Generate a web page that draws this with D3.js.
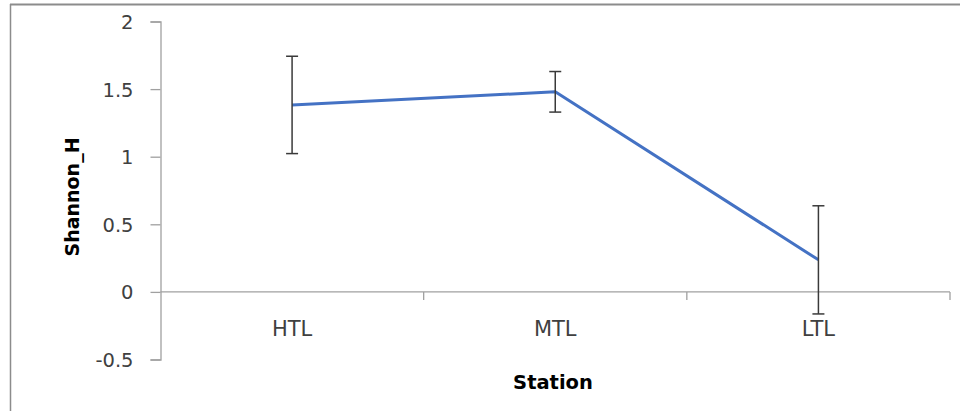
<!DOCTYPE html>
<html><head><meta charset="utf-8">
<script src="https://cdn.jsdelivr.net/npm/d3@7"></script>
<style>body{margin:0;background:#fff}svg{display:block}text{font-family:"DejaVu Sans",sans-serif;fill:#404040}</style>
</head><body><svg id="c" width="960" height="411"></svg>
<script>
const categories = ["HTL", "MTL", "LTL"];
const shannonMean = [1.383, 1.48, 0.237];
const shannonErr = [0.36, 0.15, 0.40];
const yTicks = [-0.5, 0, 0.5, 1, 1.5, 2];

const svg = d3.select("#c");
const W = 960, H = 411;
// outer frame
svg.append("line").attr("x1",10).attr("x2",W).attr("y1",4.5).attr("y2",4.5).attr("stroke","#8c8c8c").attr("stroke-width",2);
svg.append("line").attr("x1",10.5).attr("x2",10.5).attr("y1",4).attr("y2",H).attr("stroke","#8c8c8c").attr("stroke-width",1.5);

const left = 160.5, right = 950;
const x = d3.scaleBand().domain(categories).range([left, right]).padding(0);
const y = d3.scaleLinear().domain([-0.5, 2]).range([359.5, 21.5]);
const axisColor = "#a0a0a0";

// y axis
const ya = svg.append("g").attr("transform", `translate(${left},0)`)
  .call(d3.axisLeft(y).tickValues(yTicks).tickSize(10).tickPadding(17).tickFormat(d => String(d)));
ya.select(".domain").attr("stroke", axisColor).attr("stroke-width",1.3);
ya.selectAll(".tick line").attr("stroke", axisColor).attr("stroke-width",1.3);
ya.selectAll("text").style("font-size","19.5px").style("font-family","'DejaVu Sans',sans-serif").style("fill","#404040").attr("dy","0.36em");

// x axis at y=0
const xa = svg.append("g").attr("transform", `translate(0,${y(0)})`);
xa.append("line").attr("x1",left).attr("x2",right).attr("y1",0).attr("y2",0).attr("stroke",axisColor).attr("stroke-width",1.3);
const bounds = categories.map(c => x(c) + x.bandwidth());
xa.selectAll("line.tk").data(bounds).join("line").attr("class","tk")
  .attr("x1", d => d).attr("x2", d => d).attr("y1",0).attr("y2",8).attr("stroke",axisColor).attr("stroke-width",1.3);
svg.selectAll("text.cat").data(categories).join("text").attr("class","cat")
  .attr("x", d => x(d) + x.bandwidth()/2).attr("y", 336).attr("text-anchor","middle")
  .style("font-size","21px").text(d => d);

// line
const data = categories.map((c,i) => ({c, m: shannonMean[i], e: shannonErr[i]}));
const cx = d => x(d.c) + x.bandwidth()/2;
svg.append("path").datum(data)
  .attr("d", d3.line().x(cx).y(d => y(d.m)))
  .attr("fill","none").attr("stroke","#4472C4").attr("stroke-width",3).attr("stroke-linejoin","round");

// error bars
const eb = svg.append("g").attr("stroke","#3a3a3a").attr("stroke-width",1.5);
data.forEach(d => {
  const X = cx(d);
  eb.append("line").attr("x1",X).attr("x2",X).attr("y1",y(d.m+d.e)).attr("y2",y(d.m-d.e));
  [d.m+d.e, d.m-d.e].forEach(v => eb.append("line").attr("x1",X-6).attr("x2",X+6).attr("y1",y(v)).attr("y2",y(v)));
});

// titles
svg.append("text").attr("x", 553).attr("y", 389).attr("text-anchor","middle")
  .style("font-size","19.5px").style("font-weight","bold").style("fill","#000").text("Station");
svg.append("text").attr("transform",`translate(79,197) rotate(-90)`).attr("text-anchor","middle")
  .style("font-size","19px").style("font-weight","bold").style("fill","#000").text("Shannon_H");
</script></body></html>
